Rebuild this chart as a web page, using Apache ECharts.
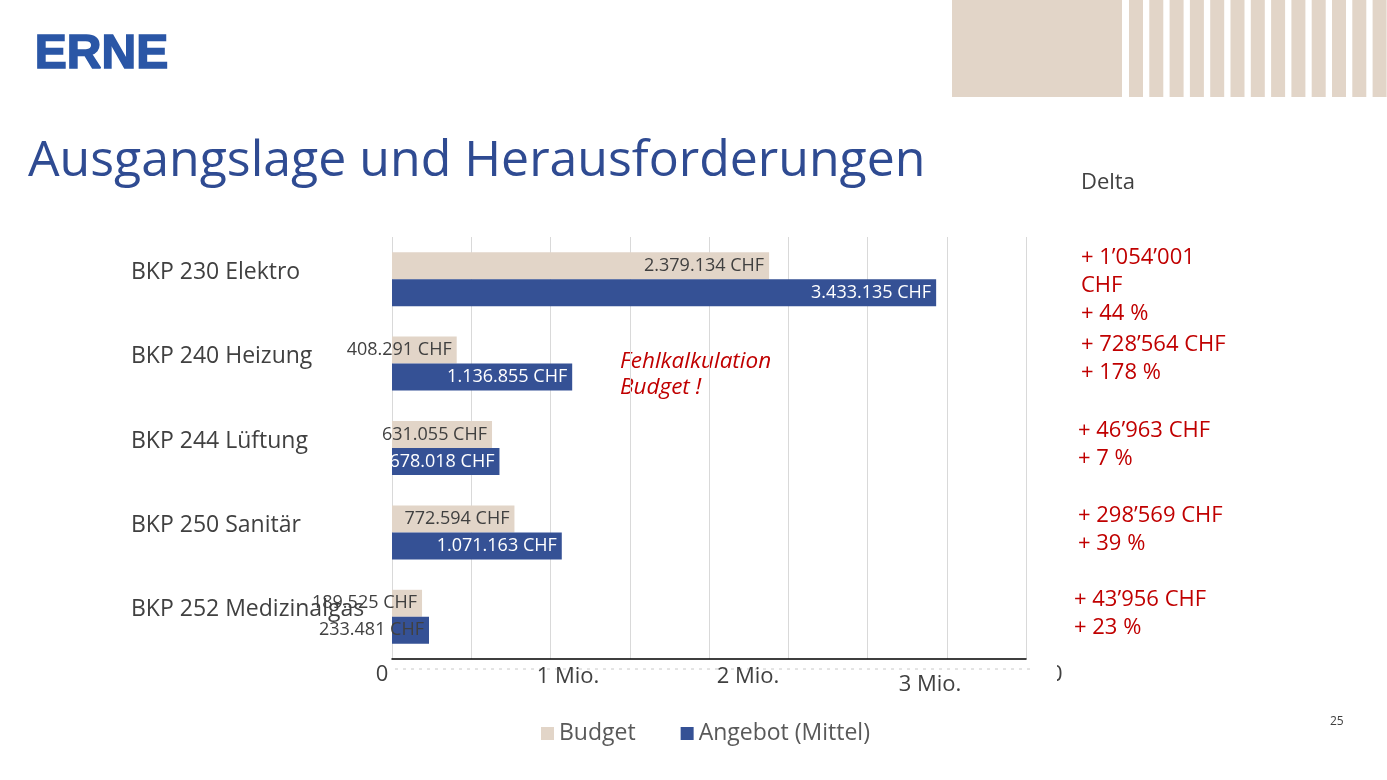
<!doctype html>
<html>
<head>
    <meta charset="UTF-8">
    <title>Ausgangslage und Herausforderungen</title>
    <script src="https://cdn.jsdelivr.net/npm/echarts@6/dist/echarts.min.js"></script>
    <style>
        html, body { margin: 0; padding: 0; background: #fff; }
        #main { width: 1387px; height: 780px; }
    </style>
</head>
<body>
<div id="main"></div>
<script>
    var categories = ['BKP 230 Elektro', 'BKP 240 Heizung', 'BKP 244 Lüftung', 'BKP 250 Sanitär', 'BKP 252 Medizinalgas'];
    var budget = [2379134, 408291, 631055, 772594, 189525];
    var angebot = [3433135, 1136855, 678018, 1071163, 233481];
    var tickLabels = ['0', '1 Mio.', '2 Mio.', '3 Mio.'];
    var deltaLabels = [
        ['+ 1\u2019054\u2019001', 'CHF', '+ 44 %'],
        ['+ 728\u2019564 CHF', '+ 178 %'],
        ['+ 46\u2019963 CHF', '+ 7 %'],
        ['+ 298\u2019569 CHF', '+ 39 %'],
        ['+ 43\u2019956 CHF', '+ 23 %']
    ];

    var font = '"Open Sans", "Noto Sans", sans-serif';
    var textGrey = '#404040';
    var red = '#C00000';
    var beige = '#E2D5C8';
    var blue = '#355195';

    function chf(v) {
        return String(v).replace(/\B(?=(\d{3})+(?!\d))/g, '.') + ' CHF';
    }

    // header decoration
    var graphics = [
        { type: 'rect', shape: { x: 952, y: 0, width: 170, height: 97 }, style: { fill: beige } },
        { type: 'text', left: 34, top: 30, style: { text: 'ERNE', fill: '#2A56A6', stroke: '#2A56A6', lineWidth: 1.6,
            font: 'bold 48px "Liberation Sans", Arial, sans-serif' } },
        { type: 'text', left: 28, top: 137, style: { text: 'Ausgangslage und Herausforderungen', fill: '#2F4B92', font: '50px ' + font } },
        { type: 'text', left: 1081, top: 172, style: { text: 'Delta', fill: textGrey, font: '22px ' + font } },
        { type: 'text', left: 620, top: 349, style: { text: 'Fehlkalkulation\nBudget !', fill: red, font: 'italic 22.5px ' + font, lineHeight: 26 } },
        { type: 'text', left: 1330, top: 716, style: { text: '25', fill: textGrey, font: '12px ' + font } },
        { type: 'line', shape: { x1: 395, y1: 669, x2: 1055, y2: 669 }, style: { stroke: '#c8c8c8', lineWidth: 1, lineDash: [3, 5] } }
    ];
    for (var i = 0; i < 13; i++) {
        graphics.push({ type: 'rect', shape: { x: 1129 + i * 20.3, y: 0, width: 14, height: 97 }, style: { fill: beige } });
    }

    // pasted axis labels (as on the slide)
    var tickPos = [[382, 664], [568, 666], [748, 666], [930, 674]];
    tickLabels.forEach(function (t, k) {
        graphics.push({ type: 'text', x: tickPos[k][0], y: tickPos[k][1],
            style: { text: t, fill: textGrey, font: '22px ' + font, align: 'center' } });
    });
    graphics.push({ type: 'text', x: 1050, y: 664, style: { text: '0', fill: textGrey, font: '22px ' + font } });
    graphics.push({ type: 'rect', shape: { x: 1030, y: 660, width: 27, height: 34 }, style: { fill: '#fff' } });

    // delta column
    var deltaPos = [[1081, 244], [1081, 331], [1078, 417], [1078, 502], [1074, 586]];
    deltaLabels.forEach(function (lines, k) {
        graphics.push({ type: 'text', left: deltaPos[k][0], top: deltaPos[k][1],
            style: { text: lines.join('\n'), fill: red, font: '22px ' + font, lineHeight: 28 } });
    });

    function barData(values, inColor) {
        return values.map(function (v) {
            // short bars: label spills out of the bar, so it is drawn dark
            return { value: v, label: { color: v < 300000 ? textGrey : inColor } };
        });
    }

    var chart = echarts.init(document.getElementById('main'));
    chart.setOption({
        animation: false,
        textStyle: { fontFamily: font },
        grid: { left: 392, right: 361, top: 237, height: 422, containLabel: false },
        legend: {
            left: 536, top: 717,
            itemWidth: 13, itemHeight: 13, itemGap: 45,
            icon: 'rect',
            textStyle: { fontSize: 23, color: '#595959', fontFamily: font },
            data: ['Budget', 'Angebot (Mittel)']
        },
        xAxis: {
            type: 'value', min: 0, max: 4000000, interval: 500000,
            axisLabel: { show: false },
            axisTick: { show: false },
            axisLine: { show: true, onZero: false, lineStyle: { color: '#000', width: 1.5 } },
            splitLine: { show: true, lineStyle: { color: '#d9d9d9', width: 1 } }
        },
        yAxis: {
            type: 'category', inverse: true, data: categories,
            axisLine: { show: false },
            axisTick: { show: false },
            axisLabel: { align: 'left', verticalAlign: 'bottom', lineHeight: 14, margin: 261,
                fontSize: 23, color: textGrey, fontFamily: font }
        },
        series: [
            {
                name: 'Budget', type: 'bar', data: barData(budget, textGrey),
                barGap: '0%', barCategoryGap: '36%',
                itemStyle: { color: beige },
                label: { show: true, position: 'insideRight', distance: 5, fontSize: 18, fontFamily: font,
                    formatter: function (p) { return chf(p.value); } }
            },
            {
                name: 'Angebot (Mittel)', type: 'bar', data: barData(angebot, '#fff'),
                barGap: '0%', barCategoryGap: '36%',
                itemStyle: { color: blue },
                label: { show: true, position: 'insideRight', distance: 5, fontSize: 18, fontFamily: font,
                    formatter: function (p) { return chf(p.value); } }
            }
        ],
        graphic: graphics
    });
</script>
</body>
</html>
